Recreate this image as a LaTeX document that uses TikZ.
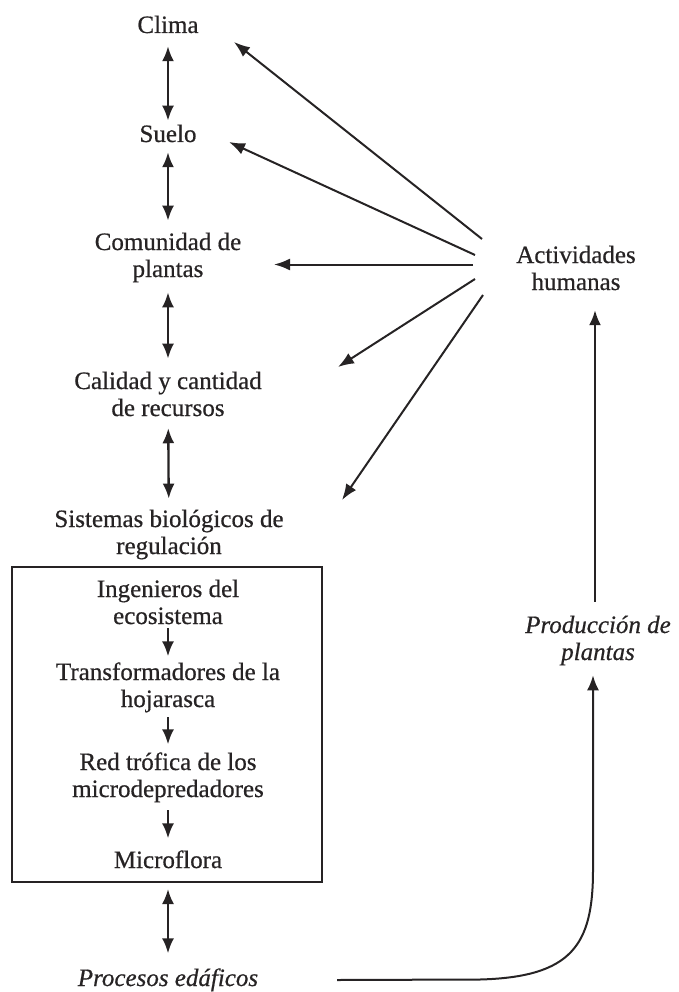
\documentclass[tikz,border=0pt]{standalone}
\usepackage{fontspec}
\setmainfont{Liberation Serif}[FakeBold=0.6]
\usetikzlibrary{arrows.meta}
\definecolor{ink}{HTML}{262324}
\begin{document}
\begin{tikzpicture}[x=1pt,y=-1pt,
  lbl/.style={anchor=base, align=center, inner sep=0pt, outer sep=0pt, text=ink,
              font=\fontsize{25}{27}\selectfont},
  ilbl/.style={lbl, font=\fontsize{25}{27}\selectfont\itshape},
  dbl/.style={draw=ink, line width=2.3pt, {Latex[length=15pt,width=12pt]}-{Latex[length=15pt,width=12pt]}},
  sgl/.style={draw=ink, line width=2.3pt, -{Latex[length=15pt,width=12pt]}},
  fan/.style={draw=ink, line width=2pt, -{Latex[length=16pt,width=12pt]}},
  boxst/.style={draw=ink, line width=2pt, inner sep=0pt, minimum width=310pt, minimum height=315pt}
]
\useasboundingbox (0,0) rectangle (679,992);

% left column
\node[lbl] (clima) at (168,33) {Clima};
\node[lbl] (suelo) at (168,142) {Suelo};
\node[lbl] (com) at (168,277) {Comunidad de\\plantas};
\node[lbl] (cal) at (168,416) {Calidad y cantidad\\de recursos};
\node[lbl] (sis) at (169,554) {Sistemas biológicos de\\regulación};

\node[boxst] (box) at (167,724.5) {};
\node[lbl] (ing) at (168,624) {Ingenieros del\\ecosistema};
\node[lbl] (tra) at (168,707) {Transformadores de la\\hojarasca};
\node[lbl] (red) at (168,797) {Red trófica de los\\microdepredadores};
\node[lbl] (mic) at (168,868) {Microflora};

\node[ilbl] (proc) at (168,986) {Procesos edáficos};

% right column
\node[lbl] (act) at (576,290) {Actividades\\humanas};
\node[ilbl] (prod) at (598,660) {Producción de\\plantas};

% vertical connectors
\draw[dbl, shorten <=13pt, shorten >=4pt] (clima) -- (suelo);
\draw[dbl, shorten <=10pt, shorten >=12pt] (suelo) -- (com);
\draw[dbl, shorten <=10pt, shorten >=13pt] (com) -- (cal);
\draw[dbl, shorten <=12pt, shorten >=11pt] (cal) -- (sis);
\draw[sgl, shorten <=4pt, shorten >=6pt] (ing) -- (tra);
\draw[sgl, shorten <=5pt, shorten >=8pt] (tra) -- (red);
\draw[sgl, shorten <=8pt, shorten >=12pt] (red) -- (mic);
\draw[dbl, shorten <=6pt, shorten >=15pt] (box.south -| mic) -- (proc);

% production to human activities
\coordinate (px) at (595,0);
\draw[sgl, line width=2pt, shorten <=14pt, shorten >=20pt] (prod.north -| px) -- (act.south -| px);

% curve from soil processes to plant production
\coordinate (cs) at (337,980);
\coordinate (cx) at (593,0);
\draw[sgl, line width=2pt, shorten >=10pt] (cs) -- (480,979.5) .. controls (572,977) and (593,945) .. (593,870) -- (prod.south -| cx);

% fan of arrows from human activities
\coordinate (f1) at (482,239);
\coordinate (f2) at (475,255);
\coordinate (f3) at (473,264.5);
\coordinate (f4) at (475,279);
\coordinate (f5) at (483,295);
\coordinate (t1) at (234,42);
\coordinate (t2) at (229,142);
\coordinate (t3) at (274,264.5);
\coordinate (t4) at (338,367);
\coordinate (t5) at (342,500);
\draw[fan] (f1) -- (t1);
\draw[fan] (f2) -- (t2);
\draw[fan] (f3) -- (t3);
\draw[fan] (f4) -- (t4);
\draw[fan] (f5) -- (t5);
\end{tikzpicture}
\end{document}
